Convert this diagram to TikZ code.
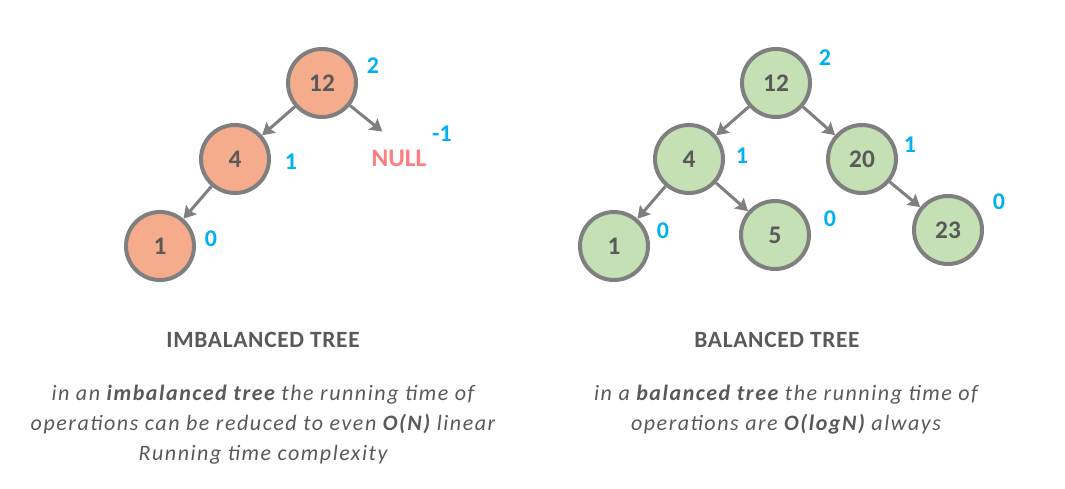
\documentclass[tikz,border=0pt]{standalone}
\usepackage{fontspec}
\setmainfont{Carlito}
\usepackage{tikz}
\usetikzlibrary{arrows.meta}
\definecolor{salmon}{HTML}{F5AC8D}
\definecolor{leafgreen}{HTML}{C5E0B4}
\definecolor{ringgray}{HTML}{7F7F7F}
\definecolor{textgray}{HTML}{595959}
\definecolor{skyblue}{HTML}{00B0F0}
\definecolor{nullred}{HTML}{FF7C80}

\begin{document}
\begin{tikzpicture}[x=0.75pt,y=-0.75pt,>={Stealth[length=9pt,width=10.5pt,inset=1.5pt]},
  every edge/.append style={draw=ringgray,line width=2.25pt},
  main node/.style={circle,fill=salmon,draw=ringgray,line width=3pt,minimum size=51pt,inner sep=0pt,
    text=textgray,font=\fontsize{19}{19}\selectfont\bfseries},
  green node/.style={main node,fill=leafgreen},
  hlabel/.style={text=skyblue,font=\fontsize{18}{18}\selectfont\bfseries},
  title/.style={text=textgray,font=\fontsize{17.5}{20}\selectfont\bfseries\addfontfeatures{LetterSpace=3}},
  note/.style={text=textgray,align=center,font=\fontsize{16.5}{22.5}\selectfont\itshape\addfontfeatures{LetterSpace=7}}]

  \useasboundingbox (0,0) rectangle (1065,489);

  % imbalanced tree
  \node[main node] (a12) at (322,83) {12};
  \node[main node] (a4) at (235,159) {4};
  \node[main node] (a1) at (160,246) {1};
  \node[text=nullred,font=\fontsize{19}{19}\selectfont\bfseries] (anull) at (399,158) {NULL};

  \node[hlabel] (ha12) at (373,66) {2};
  \node[hlabel] (ha4) at (291,162) {1};
  \node[hlabel] (ha1) at (211,239) {0};
  \node[hlabel] (hanull) at (442,134) {-1};

  \path[->]
    (a12) edge (a4)
          edge [shorten >=16pt] (anull.north)
    (a4) edge (a1);

  % balanced tree
  \node[green node] (b12) at (776,83) {12};
  \node[green node] (b4) at (689,159) {4};
  \node[green node] (b20) at (862,159) {20};
  \node[green node] (b1) at (614,246) {1};
  \node[green node] (b5) at (775,235) {5};
  \node[green node] (b23) at (948,230) {23};

  \node[hlabel] (hb12) at (825,58) {2};
  \node[hlabel] (hb4) at (742,156) {1};
  \node[hlabel] (hb20) at (910,145) {1};
  \node[hlabel] (hb1) at (663,231) {0};
  \node[hlabel] (hb5) at (830,219) {0};
  \node[hlabel] (hb23) at (999,202) {0};

  \path[->]
    (b12) edge (b4)
          edge (b20)
    (b4) edge (b1)
         edge (b5)
    (b20) edge (b23);

  % captions
  \node[title] (ta) at (263,340) {IMBALANCED TREE};
  \node[title] (tb) at (777,340) {BALANCED TREE};
  \node[note] (na) at (263,425) {in an \textbf{imbalanced tree} the running time of\\
    operations can be reduced to even \textbf{O(N)} linear\\Running time complexity};
  \node[note] (nb) at (786,410) {in a \textbf{balanced tree} the running time of\\
    operations are \textbf{O(logN)} always};
\end{tikzpicture}
\end{document}
